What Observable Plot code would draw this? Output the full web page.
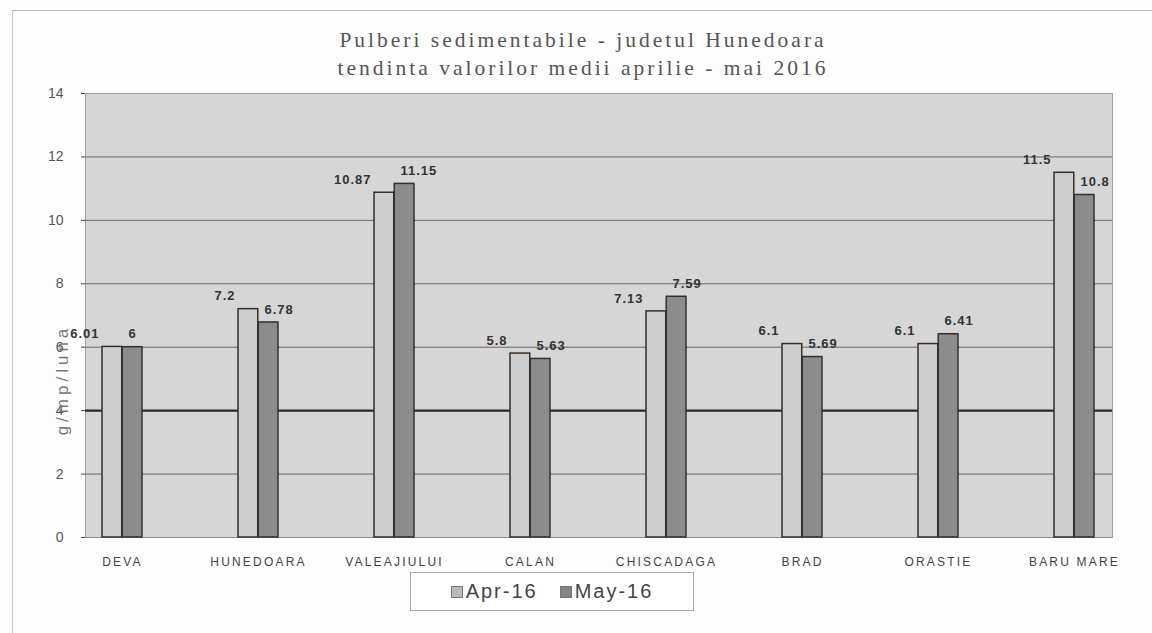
<!DOCTYPE html>
<html>
<head>
<meta charset="utf-8">
<script src="https://cdn.jsdelivr.net/npm/d3@7"></script>
<script src="https://cdn.jsdelivr.net/npm/@observablehq/plot@0.6"></script>
<style>
  html, body { margin: 0; padding: 0; background: #fff; }
  #wrap { position: relative; width: 1152px; height: 633px; overflow: hidden; background: #fdfdfd; }
  #border { position: absolute; left: 12px; top: 10px; width: 1200px; height: 700px; border-left: 1px solid #c4c4c4; border-top: 1px solid #b8b8b8; }
  #title { position: absolute; top: 26px; left: 0; width: 1166px; text-align: center;
    font-family: "Liberation Serif", "Times New Roman", serif; font-size: 21.5px; line-height: 28px;
    letter-spacing: 3px; color: #555; }
  #chart { position: absolute; top: 84px; left: 0; }
  #ylabel { position: absolute; left: 63px; top: 380px; transform: translate(-50%, -50%) rotate(-90deg);
    font-family: "Liberation Sans", Arial, sans-serif; font-size: 17px; color: #777; white-space: nowrap; letter-spacing: 4px; }
  #legend { position: absolute; left: 410px; top: 572px; width: 284px; height: 39px; box-sizing: border-box;
    border: 1px solid #a8a8a8; background: #fff; display: flex; align-items: center; justify-content: center; gap: 22px;
    font-family: "Liberation Sans", Arial, sans-serif; font-size: 20px; letter-spacing: 2px; color: #444; }
  #legend .item { display: flex; align-items: center; gap: 3px; }
  #legend .sw { width: 12px; height: 12px; border: 1px solid #777; box-sizing: border-box; }
  #chart svg g[aria-label^="x-axis"] text { font-size: 12px; letter-spacing: 2.2px; fill: #444; }
  #chart svg g[aria-label^="y-axis"] text { font-size: 14px; fill: #555; }
  #chart svg g[aria-label="text"] text { letter-spacing: 1px; }
</style>
</head>
<body>
<div id="wrap">
  <div id="border"></div>
  <div id="title">Pulberi sedimentabile - judetul Hunedoara<br>tendinta valorilor medii aprilie - mai 2016</div>
  <div id="chart"></div>
  <div id="ylabel">g/mp/luna</div>
  <div id="legend"></div>
</div>
<script>
// ---- data ----
const cities = ["DEVA", "HUNEDOARA", "VALEAJIULUI", "CALAN", "CHISCADAGA", "BRAD", "ORASTIE", "BARU MARE"];
const apr16 = [6.01, 7.2, 10.87, 5.8, 7.13, 6.1, 6.1, 11.5];
const may16 = [6, 6.78, 11.15, 5.63, 7.59, 5.69, 6.41, 10.8];
const seriesNames = ["Apr-16", "May-16"];
const yTicks = [0, 2, 4, 6, 8, 10, 12, 14];
const gridValues = [2, 6, 8, 10, 12];
const referenceLine = [4];

// ---- styles ----
const colors = { "Apr-16": "#cdcdcd", "May-16": "#8c8c8c" };
const swatchColors = { "Apr-16": "#b9b9b9", "May-16": "#858585" };

const aprData = cities.map((c, i) => ({ city: c, value: apr16[i] }));
const mayData = cities.map((c, i) => ({ city: c, value: may16[i] }));

const halfBand = 20.25;

const chart = Plot.plot({
  width: 1152,
  height: 488,
  marginTop: 9,
  marginBottom: 35,
  marginLeft: 85,
  marginRight: 40,
  style: { fontFamily: "Liberation Sans, Arial, sans-serif", background: "transparent", color: "#444", overflow: "visible" },
  x: { domain: cities, paddingInner: 0.703, paddingOuter: 0.1185, label: null, tickSize: 0, tickPadding: 20 },
  y: { domain: [0, 14], ticks: yTicks, label: null, tickSize: 4, tickPadding: 18 },
  marks: [
    Plot.frame({ fill: "#d6d6d6", stroke: "#a0a0a0" }),
    Plot.ruleY(gridValues, { stroke: "#6f635d", strokeWidth: 1 }),
    Plot.ruleY(referenceLine, { stroke: "#33261f", strokeWidth: 2.2 }),
    Plot.ruleY([0], { stroke: "#8a8a8a", strokeWidth: 1 }),
    Plot.barY(aprData, { x: "city", y: "value", fill: colors["Apr-16"], stroke: "#3a2e28", strokeWidth: 1.5, insetRight: halfBand }),
    Plot.barY(mayData, { x: "city", y: "value", fill: colors["May-16"], stroke: "#3a2e28", strokeWidth: 1.5, insetLeft: halfBand }),
    Plot.text(aprData, { x: "city", y: "value", text: d => String(d.value), textAnchor: "end", dx: -23, dy: -13, fontWeight: "bold", fontSize: 13, fill: "#333" }),
    Plot.text(mayData, { x: "city", y: "value", text: d => String(d.value), textAnchor: "start", dx: 6, dy: -13, fontWeight: "bold", fontSize: 13, fill: "#333" })
  ]
});
document.getElementById("chart").appendChild(chart);

// legend
const legend = document.getElementById("legend");
seriesNames.forEach(name => {
  const item = document.createElement("div");
  item.className = "item";
  const sw = document.createElement("div");
  sw.className = "sw";
  sw.style.background = swatchColors[name];
  const label = document.createElement("span");
  label.textContent = name;
  item.appendChild(sw);
  item.appendChild(label);
  legend.appendChild(item);
});
</script>
</body>
</html>
